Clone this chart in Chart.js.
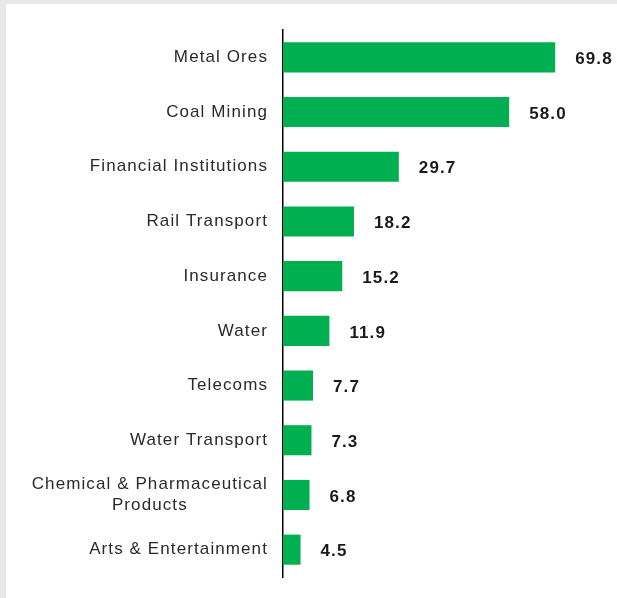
<!DOCTYPE html>
<html>
<head>
<meta charset="utf-8">
<script src="https://cdn.jsdelivr.net/npm/chart.js@4"></script>
<style>
    body { margin: 0; background: #e8e8e8; }
    #panel { position: absolute; left: 6px; top: 4px; width: 611px; height: 594px; background: #fff; }
</style>
</head>
<body>
<div id="panel"><canvas id="chart" width="611" height="594"></canvas></div>
<script>
// Chart data
var categories = [
    'Metal Ores',
    'Coal Mining',
    'Financial Institutions',
    'Rail Transport',
    'Insurance',
    'Water',
    'Telecoms',
    'Water Transport',
    ['Chemical & Pharmaceutical', 'Products'],
    'Arts & Entertainment'
];
var values = [69.8, 58.0, 29.7, 18.2, 15.2, 11.9, 7.7, 7.3, 6.8, 4.5];

var labelFont = '17px "Liberation Sans", Arial, sans-serif';
var valueFont = 'bold 17px "Liberation Sans", Arial, sans-serif';

// Category names on the left, each line centred inside a right aligned block
var categoryLabels = {
    id: 'categoryLabels',
    afterDraw: function (chart) {
        var ctx = chart.ctx;
        var yScale = chart.scales.y;
        var right = chart.chartArea.left - 15;
        var lineH = 21;
        ctx.save();
        ctx.font = labelFont;
        ctx.letterSpacing = '1.1px';
        ctx.fillStyle = '#2a2a2a';
        ctx.textAlign = 'center';
        ctx.textBaseline = 'middle';
        categories.forEach(function (label, i) {
            var lines = Array.isArray(label) ? label : [label];
            var w = Math.max.apply(null, lines.map(function (l) { return ctx.measureText(l).width; }));
            var cx = right - w / 2;
            var top = yScale.getPixelForValue(i) - (lines.length - 1) * lineH / 2;
            lines.forEach(function (l, j) {
                ctx.fillText(l, cx, top + j * lineH);
            });
        });
        ctx.restore();
    }
};

// Value labels at the end of each bar
var valueLabels = {
    id: 'valueLabels',
    afterDatasetsDraw: function (chart) {
        var ctx = chart.ctx;
        var meta = chart.getDatasetMeta(0);
        ctx.save();
        ctx.font = valueFont;
        ctx.letterSpacing = '1.1px';
        ctx.fillStyle = '#1a1a1a';
        ctx.textAlign = 'left';
        ctx.textBaseline = 'middle';
        meta.data.forEach(function (bar, i) {
            ctx.fillText(values[i].toFixed(1), bar.x + 20, bar.y + 2);
        });
        ctx.restore();
    }
};

new Chart(document.getElementById('chart'), {
    type: 'bar',
    data: {
        labels: categories,
        datasets: [{
            data: values,
            backgroundColor: '#00b050',
            borderWidth: 0,
            barPercentage: 0.55,
            categoryPercentage: 1,
        }],
    },
    options: {
        indexAxis: 'y',
        responsive: false,
        devicePixelRatio: 1,
        animation: false,
        layout: {
            padding: { left: 277, right: 22, top: 26, bottom: 21 },
        },
        plugins: {
            legend: { display: false },
            tooltip: { enabled: false },
        },
        scales: {
            x: {
                display: false,
                min: 0,
                max: 80,
            },
            y: {
                grid: { display: false, drawTicks: false },
                border: { display: true, color: '#000', width: 1.5 },
                ticks: { display: false },
                afterFit: function (scale) { scale.width = 0; },
            },
        },
    },
    plugins: [categoryLabels, valueLabels],
});
</script>
</body>
</html>
